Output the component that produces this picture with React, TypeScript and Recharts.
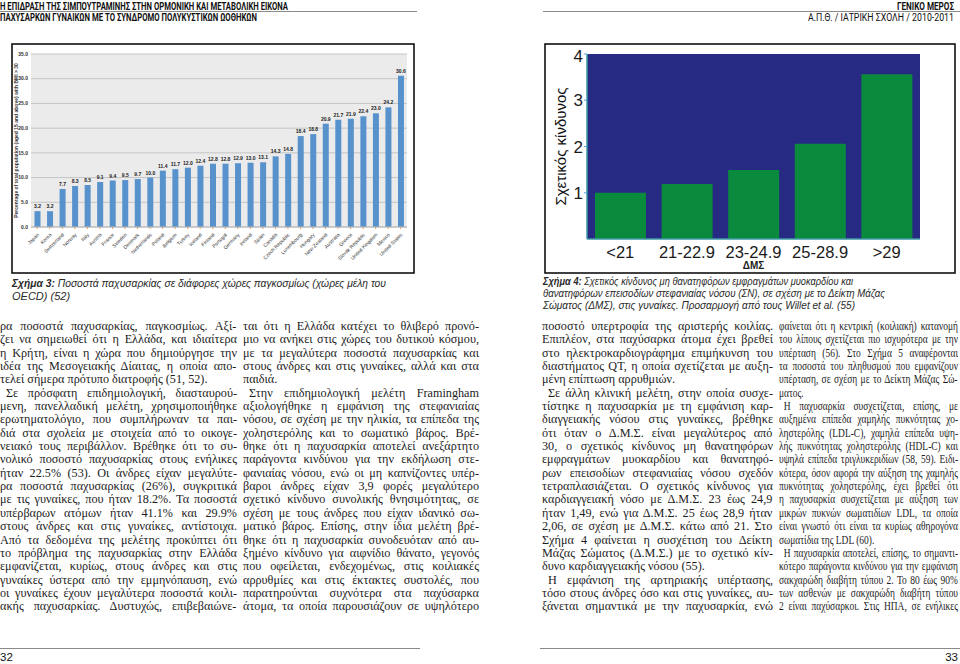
import React from 'react';
import { BarChart, Bar, XAxis, YAxis, CartesianGrid, LabelList } from 'recharts';

// Σχήμα 3 – OECD obesity rates
const countries = [
  'Japan', 'Korea', 'Switzerland', 'Norway', 'Italy', 'Austria', 'France', 'Sweden',
  'Denmark', 'Netherlands', 'Poland', 'Belgium', 'Turkey', 'Iceland', 'Finland',
  'Portugal', 'Germany', 'Ireland', 'Spain', 'Canada', 'Czech Republic', 'Luxembourg',
  'Hungary', 'New Zealand', 'Australia', 'Greece', 'Slovak Republic', 'United Kingdom',
  'Mexico', 'United States',
];
const obesity = [
  3.2, 3.2, 7.7, 8.3, 8.5, 9.1, 9.4, 9.5, 9.7, 10.0, 11.4, 11.7, 12.0, 12.4, 12.8,
  12.8, 12.9, 13.0, 13.1, 14.3, 14.8, 18.4, 18.8, 20.9, 21.7, 21.9, 22.4, 23.0, 24.2, 30.6,
];
const obesityTicks = [0, 5, 10, 15, 20, 25, 30, 35];

// Σχήμα 4 – relative risk by BMI
const bmiGroups = ['<21', '21-22.9', '23-24.9', '25-28.9', '>29'];
const relRisk = [1.0, 1.19, 1.49, 2.06, 3.56];
const riskTicks = [1, 2, 3, 4];

// body text, one entry per printed line, grouped in paragraphs
const col1 = [
  [
    'ρα ποσοστά παχυσαρκίας, παγκοσμίως. Αξί-',
    'ζει να σημειωθεί ότι η Ελλάδα, και ιδιαίτερα',
    'η Κρήτη, είναι η χώρα που δημιούργησε την',
    'ιδέα της Μεσογειακής Δίαιτας, η οποία απο-',
    'τελεί σήμερα πρότυπο διατροφής (51, 52).',
  ],
  [
    'Σε πρόσφατη επιδημιολογική, διασταυρού-',
    'μενη, πανελλαδική μελέτη, χρησιμοποιήθηκε',
    'ερωτηματολόγιο, που συμπλήρωναν τα παι-',
    'διά στα σχολεία με στοιχεία από το οικογε-',
    'νειακό τους περιβάλλον. Βρέθηκε ότι το συ-',
    'νολικό ποσοστό παχυσαρκίας στους ενήλικες',
    'ήταν 22.5% (53). Οι άνδρες είχαν μεγαλύτε-',
    'ρα ποσοστά παχυσαρκίας (26%), συγκριτικά',
    'με τις γυναίκες, που ήταν 18.2%. Τα ποσοστά',
    'υπέρβαρων ατόμων ήταν 41.1% και 29.9%',
    'στους άνδρες και στις γυναίκες, αντίστοιχα.',
    'Από τα δεδομένα της μελέτης προκύπτει ότι',
    'το πρόβλημα της παχυσαρκίας στην Ελλάδα',
    'εμφανίζεται, κυρίως, στους άνδρες και στις',
    'γυναίκες ύστερα από την εμμηνόπαυση, ενώ',
    'οι γυναίκες έχουν μεγαλύτερα ποσοστά κοιλι-',
    'ακής παχυσαρκίας. Δυστυχώς, επιβεβαιώνε-',
  ],
];
const col2 = [
  [
    'ται ότι η Ελλάδα κατέχει το θλιβερό προνό-',
    'μιο να ανήκει στις χώρες του δυτικού κόσμου,',
    'με τα μεγαλύτερα ποσοστά παχυσαρκίας και',
    'στους άνδρες και στις γυναίκες, αλλά και στα',
    'παιδιά.',
  ],
  [
    'Στην επιδημιολογική μελέτη Framingham',
    'αξιολογήθηκε η εμφάνιση της στεφανιαίας',
    'νόσου, σε σχέση με την ηλικία, τα επίπεδα της',
    'χοληστερόλης και το σωματικό βάρος. Βρέ-',
    'θηκε ότι η παχυσαρκία αποτελεί ανεξάρτητο',
    'παράγοντα κινδύνου για την εκδήλωση στε-',
    'φανιαίας νόσου, ενώ οι μη καπνίζοντες υπέρ-',
    'βαροι άνδρες είχαν 3,9 φορές μεγαλύτερο',
    'σχετικό κίνδυνο συνολικής θνησιμότητας, σε',
    'σχέση με τους άνδρες που είχαν ιδανικό σω-',
    'ματικό βάρος. Επίσης, στην ίδια μελέτη βρέ-',
    'θηκε ότι η παχυσαρκία συνοδευόταν από αυ-',
    'ξημένο κίνδυνο για αιφνίδιο θάνατο, γεγονός',
    'που οφείλεται, ενδεχομένως, στις κοιλιακές',
    'αρρυθμίες και στις έκτακτες συστολές, που',
    'παρατηρούνται συχνότερα στα παχύσαρκα',
    'άτομα, τα οποία παρουσιάζουν σε υψηλότερο',
  ],
];
const col3 = [
  [
    'ποσοστό υπερτροφία της αριστερής κοιλίας.',
    'Επιπλέον, στα παχύσαρκα άτομα έχει βρεθεί',
    'στο ηλεκτροκαρδιογράφημα επιμήκυνση του',
    'διαστήματος QT, η οποία σχετίζεται με αυξη-',
    'μένη επίπτωση αρρυθμιών.',
  ],
  [
    'Σε άλλη κλινική μελέτη, στην οποία συσχε-',
    'τίστηκε η παχυσαρκία με τη εμφάνιση καρ-',
    'διαγγειακής νόσου στις γυναίκες, βρέθηκε',
    'ότι όταν ο Δ.Μ.Σ. είναι μεγαλύτερος από',
    '30, ο σχετικός κίνδυνος μη θανατηφόρων',
    'εμφραγμάτων μυοκαρδίου και θανατηφό-',
    'ρων επεισοδίων στεφανιαίας νόσου σχεδόν',
    'τετραπλασιάζεται. Ο σχετικός κίνδυνος για',
    'καρδιαγγειακή νόσο με Δ.Μ.Σ. 23 έως 24,9',
    'ήταν 1,49, ενώ για Δ.Μ.Σ. 25 έως 28,9 ήταν',
    '2,06, σε σχέση με Δ.Μ.Σ. κάτω από 21. Στο',
    'Σχήμα 4 φαίνεται η συσχέτιση του Δείκτη',
    'Μάζας Σώματος (Δ.Μ.Σ.) με το σχετικό κίν-',
    'δυνο καρδιαγγειακής νόσου (55).',
  ],
  [
    'Η εμφάνιση της αρτηριακής υπέρτασης,',
    'τόσο στους άνδρες όσο και στις γυναίκες, αυ-',
    'ξάνεται σημαντικά με την παχυσαρκία, ενώ',
  ],
];
const col4 = [
  [
    'φαίνεται ότι η κεντρική (κοιλιακή) κατανομή',
    'του λίπους σχετίζεται πιο ισχυρότερα με την',
    'υπέρταση (56). Στο Σχήμα 5 αναφέρονται',
    'τα ποσοστά του πληθυσμού που εμφανίζουν',
    'υπέρταση, σε σχέση με το Δείκτη Μάζας Σώ-',
    'ματος.',
  ],
  [
    'Η παχυσαρκία συσχετίζεται, επίσης, με',
    'αυξημένα επίπεδα χαμηλής πυκνότητας χο-',
    'ληστερόλης (LDL-C), χαμηλά επίπεδα υψη-',
    'λής πυκνότητας χοληστερόλης (HDL-C) και',
    'υψηλά επίπεδα τριγλυκεριδίων (58, 59). Ειδι-',
    'κότερα, όσον αφορά την αύξηση της χαμηλής',
    'πυκνότητας χοληστερόλης, έχει βρεθεί ότι',
    'η παχυσαρκία συσχετίζεται με αύξηση των',
    'μικρών πυκνών σωματιδίων LDL, τα οποία',
    'είναι γνωστό ότι είναι τα κυρίως αθηρογόνα',
    'σωματίδια της LDL (60).',
  ],
  [
    'Η παχυσαρκία αποτελεί, επίσης, το σημαντι-',
    'κότερο παράγοντα κινδύνου για την εμφάνιση',
    'σακχαρώδη διαβήτη τύπου 2. Το 80 έως 90%',
    'των ασθενών με σακχαρώδη διαβήτη τύπου',
    '2 είναι παχύσαρκοι. Στις ΗΠΑ, σε ενήλικες',
  ],
];

const SERIF = '"Liberation Serif", "DejaVu Serif", serif';
const SANS = '"Liberation Sans", Arial, sans-serif';
const NARROW = '"Liberation Sans Narrow", "Roboto", "Liberation Sans", sans-serif';
const LH = 13.35;
const BODY_SIZE = 12.2;
const BODY_FONT = `${BODY_SIZE}px "Liberation Serif", "DejaVu Serif", serif`;
const INDENT = 6;

// justification is done by hand so that every printed line keeps its own break
let measureCtx: CanvasRenderingContext2D | null = null;
function textWidth(s: string) {
  if (!measureCtx) measureCtx = document.createElement('canvas').getContext('2d');
  if (!measureCtx) return s.length * BODY_SIZE * 0.48;
  measureCtx.font = BODY_FONT;
  return measureCtx.measureText(s).width;
}

const CountryTick = (p: any) => (
  <g transform={`translate(${p.x},${p.y + 2})`}>
    <text transform="rotate(-45)" textAnchor="end" fontSize={5} fill="#333" fontFamily={SANS} dy={3}>
      {p.payload.value}
    </text>
  </g>
);

function ObesityChart() {
  const data = countries.map((c, i) => ({ c, v: obesity[i] }));
  return (
    <BarChart width={402} height={227} data={data} margin={{ top: 8, right: 7, bottom: 0, left: 0 }} barCategoryGap="28%">
      <CartesianGrid vertical={false} stroke="#c4c4c4" fill="#ebebeb" />
      <XAxis
        dataKey="c"
        interval={0}
        height={46}
        tick={<CountryTick />}
        tickLine={{ stroke: '#e0a26a' }}
        tickSize={2}
        axisLine={{ stroke: '#b8b8b8' }}
      />
      <YAxis
        domain={[0, 35]}
        ticks={obesityTicks}
        width={19}
        tickFormatter={(v: number) => v.toFixed(1)}
        tick={{ fontSize: 5, fontWeight: 700, fill: '#333', fontFamily: SANS }}
        axisLine={false}
        tickLine={false}
        tickSize={0}
        tickMargin={3}
        label={{
          value: 'Percentage of total population (aged 15 and above) with BMI > 30',
          angle: -90,
          position: 'insideLeft',
          offset: 4,
          style: { fontSize: 5, fontWeight: 700, fill: '#333', textAnchor: 'middle', fontFamily: SANS },
        }}
      />
      <Bar dataKey="v" fill="#5892cd" isAnimationActive={false}>
        <LabelList
          dataKey="v"
          position="top"
          offset={3}
          formatter={(v: any) => Number(v).toFixed(1)}
          style={{ fontSize: 5, fontWeight: 700, fill: '#222', fontFamily: SANS }}
        />
      </Bar>
    </BarChart>
  );
}

function RiskChart() {
  const data = bmiGroups.map((g, i) => ({ g, r: relRisk[i] }));
  const edge = '#3d98a4';
  return (
    <BarChart width={408} height={225} data={data} margin={{ top: 8, right: 33, bottom: 0, left: 0 }} barCategoryGap="12%">
      <CartesianGrid horizontal={false} vertical={false} fill="#262a83" />
      <XAxis
        dataKey="g"
        height={32}
        tick={{ fontSize: 16.5, fill: '#1a1a1a', fontFamily: SANS }}
        tickLine={false}
        axisLine={{ stroke: edge, strokeWidth: 1.5 }}
        tickMargin={1}
        label={{ value: 'ΔΜΣ', position: 'insideBottom', offset: 2, style: { fontSize: 10, fontWeight: 700, fill: '#222', fontFamily: SANS } }}
      />
      <XAxis xAxisId="top" orientation="top" dataKey="g" height={0} tick={false} tickLine={false} axisLine={{ stroke: edge, strokeWidth: 1.5 }} />
      <YAxis
        domain={[0, 4]}
        ticks={riskTicks}
        width={42}
        tick={{ fontSize: 17, fill: '#1a1a1a', fontFamily: SANS }}
        tickLine={{ stroke: '#5aa7d8' }}
        tickSize={3}
        tickMargin={1}
        axisLine={{ stroke: edge, strokeWidth: 1.5 }}
        label={{
          value: 'Σχετικός κίνδυνος',
          angle: -90,
          position: 'insideLeft',
          offset: 16,
          style: { fontSize: 15, fill: '#111', textAnchor: 'middle', fontFamily: SANS },
        }}
      />
      <YAxis yAxisId="right" orientation="right" domain={[0, 4]} width={0} tick={false} tickLine={false} axisLine={{ stroke: edge, strokeWidth: 1.5 }} />
      <Bar dataKey="r" fill="#0a8a3c" isAnimationActive={false} />
    </BarChart>
  );
}

function Column({ paras, x, y, width, scale = 1 }: { paras: string[][]; x: number; y: number; width: number; scale?: number }) {
  const rows: React.ReactNode[] = [];
  paras.forEach((p, pi) =>
    p.forEach((line, li) => {
      const indent = pi > 0 && li === 0;
      const last = li === p.length - 1 && pi < paras.length - 1;
      const avail = width - (indent ? INDENT : 0);
      const w = textWidth(line);
      const spaces = (line.match(/ /g) || []).length;
      let wordSpacing = 0;
      let letterSpacing = 0;
      if (w > avail) letterSpacing = (avail - w) / line.length;
      else if (!last && spaces) wordSpacing = (avail - w) / spaces;
      rows.push(
        <div
          key={`${pi}-${li}`}
          style={{
            height: LH,
            lineHeight: `${LH}px`,
            paddingLeft: indent ? INDENT : 0,
            whiteSpace: 'pre',
            wordSpacing,
            letterSpacing,
          }}
        >
          {line}
        </div>,
      );
    }),
  );
  return (
    <div
      style={{
        position: 'absolute',
        left: x,
        top: y,
        width,
        fontFamily: SERIF,
        fontSize: BODY_SIZE,
        color: '#1c1c1c',
        transform: scale !== 1 ? `scaleX(${scale})` : undefined,
        transformOrigin: 'left top',
      }}
    >
      {rows}
    </div>
  );
}

export default function App() {
  return (
    <div style={{ position: 'absolute', left: 0, top: 0, width: 960, height: 664, background: '#fff', overflow: 'hidden' }}>
      <svg width={960} height={664} style={{ position: 'absolute', left: 0, top: 0 }}>
        {/* running heads */}
        <text x={0} y={10} fontFamily={NARROW} fontWeight={700} fontSize={10} fill="#111" textLength={288} lengthAdjust="spacingAndGlyphs">
          Η ΕΠΙΔΡΑΣΗ ΤΗΣ ΣΙΜΠΟΥΤΡΑΜΙΝΗΣ ΣΤΗΝ ΟΡΜΟΝΙΚΗ ΚΑΙ ΜΕΤΑΒΟΛΙΚΗ ΕΙΚΟΝΑ
        </text>
        <line x1={0} x2={417} y1={11.5} y2={11.5} stroke="#8a8a8a" strokeWidth={1} />
        <text x={0} y={21} fontFamily={NARROW} fontWeight={700} fontSize={10} fill="#111" textLength={257} lengthAdjust="spacingAndGlyphs">
          ΠΑΧΥΣΑΡΚΩΝ ΓΥΝΑΙΚΩΝ ΜΕ ΤΟ ΣΥΝΔΡΟΜΟ ΠΟΛΥΚΥΣΤΙΚΩΝ ΩΟΘΗΚΩΝ
        </text>
        <text x={897} y={10} fontFamily={NARROW} fontWeight={700} fontSize={10} fill="#111" textLength={57} lengthAdjust="spacingAndGlyphs">
          ΓΕΝΙΚΟ ΜΕΡΟΣ
        </text>
        <line x1={543} x2={960} y1={11.5} y2={11.5} stroke="#8a8a8a" strokeWidth={1} />
        <text x={808} y={21} fontFamily={NARROW} fontSize={10} fill="#111" textLength={146} lengthAdjust="spacingAndGlyphs">
          Α.Π.Θ. / ΙΑΤΡΙΚΗ ΣΧΟΛΗ / 2010-2011
        </text>

        {/* figure frames */}
        <rect x={12} y={44} width={402} height={229} fill="none" stroke="#111" strokeWidth={1.6} />
        <rect x={545} y={44} width={410} height={229} fill="none" stroke="#111" strokeWidth={1.6} />

        {/* captions */}
        <text x={12} y={287} fontFamily={SANS} fontStyle="italic" fontSize={11} fill="#2a2a2a" textLength={374} lengthAdjust="spacingAndGlyphs">
          <tspan fontWeight={700}>Σχήμα 3:</tspan> Ποσοστά παχυσαρκίας σε διάφορες χώρες παγκοσμίως  (χώρες μέλη του
        </text>
        <text x={12} y={300} fontFamily={SANS} fontStyle="italic" fontSize={11} fill="#2a2a2a">
          OECD) (52)
        </text>
        <text x={543} y={285} fontFamily={SANS} fontStyle="italic" fontSize={11} fill="#2a2a2a" textLength={310} lengthAdjust="spacingAndGlyphs">
          <tspan fontWeight={700}>Σχήμα 4:</tspan> Σχετικός κίνδυνος μη θανατηφόρων εμφραγμάτων μυοκαρδίου και
        </text>
        <text x={543} y={297} fontFamily={SANS} fontStyle="italic" fontSize={11} fill="#2a2a2a" textLength={342} lengthAdjust="spacingAndGlyphs">
          θανατηφόρων επεισοδίων στεφανιαίας νόσου (ΣΝ), σε σχέση με το Δείκτη Μάζας
        </text>
        <text x={543} y={309} fontFamily={SANS} fontStyle="italic" fontSize={11} fill="#2a2a2a" textLength={312} lengthAdjust="spacingAndGlyphs">
          Σώματος (ΔΜΣ), στις γυναίκες. Προσαρμογή από τους Willet et al.  (55)
        </text>

        {/* folios */}
        <line x1={0} x2={420} y1={648.5} y2={648.5} stroke="#8a8a8a" strokeWidth={1} />
        <line x1={540} x2={960} y1={648.5} y2={648.5} stroke="#8a8a8a" strokeWidth={1} />
        <text x={0} y={661} fontFamily={SANS} fontSize={11.5} fill="#111">32</text>
        <text x={958} y={661} fontFamily={SANS} fontSize={11.5} fill="#111" textAnchor="end">33</text>
      </svg>

      <div style={{ position: 'absolute', left: 12, top: 46 }}>
        <ObesityChart />
      </div>
      <div style={{ position: 'absolute', left: 545, top: 46 }}>
        <RiskChart />
      </div>

      <Column paras={col1} x={0} y={320} width={237} />
      <Column paras={col2} x={243} y={320} width={236} />
      <Column paras={col3} x={542} y={320} width={231} />
      <Column paras={col4} x={779} y={320} width={231} scale={0.775} />
    </div>
  );
}
